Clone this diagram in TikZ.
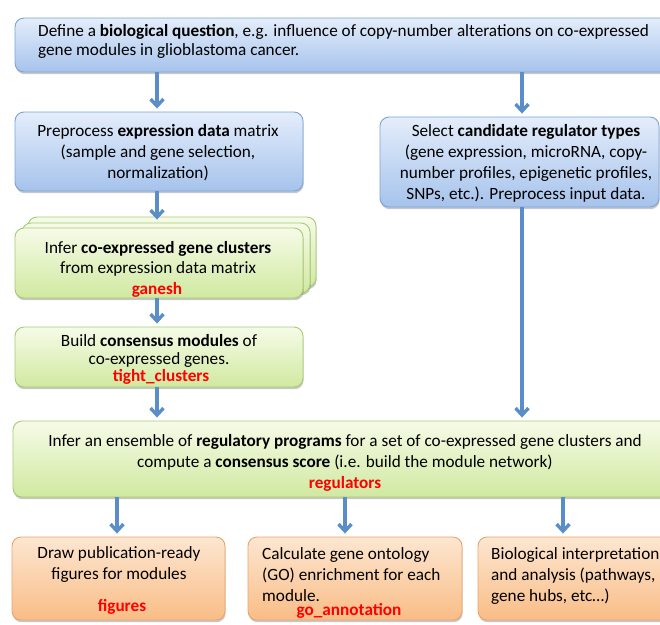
\documentclass[tikz,border=0pt]{standalone}
\usepackage{fontspec}
\setmainfont{Carlito}
\usetikzlibrary{arrows.meta,shadows}
\definecolor{bdraw}{RGB}{125,163,214}
\definecolor{btop}{RGB}{228,237,251}
\definecolor{bbot}{RGB}{166,195,236}
\definecolor{gdraw}{RGB}{166,204,112}
\definecolor{gtop}{RGB}{246,251,232}
\definecolor{gbot}{RGB}{208,233,160}
\definecolor{odraw}{RGB}{238,164,104}
\definecolor{otop}{RGB}{253,230,209}
\definecolor{obot}{RGB}{249,189,134}
\definecolor{acol}{RGB}{91,142,200}
\definecolor{tred}{RGB}{255,0,0}
\begin{document}
\begin{tikzpicture}[x=1pt,y=-1pt,
  box/.style={draw, line width=0.9pt, rounded corners=9pt, inner sep=0pt,
    drop shadow={shadow xshift=0.6pt, shadow yshift=-2.2pt, opacity=0.22, fill=black}},
  bluebox/.style={box, draw=bdraw, top color=btop, bottom color=bbot},
  greenbox/.style={box, draw=gdraw, top color=gtop, bottom color=gbot},
  orangebox/.style={box, draw=odraw, top color=otop, bottom color=obot},
  txt/.style={inner sep=0pt, align=center, text=black, font=\fontsize{17.2}{21}\selectfont},
  redtxt/.style={inner sep=0pt, text=tred, font=\fontsize{17.2}{18}\selectfont\bfseries},
  arr/.style={draw=acol, line width=3.4pt, shorten >=3pt,
    -{Straight Barb[length=7pt, width=13pt, line width=3.4pt]}}]
\useasboundingbox (0,0) rectangle (660,624);
\clip (0,0) rectangle (660,624);

% boxes
\node[bluebox, minimum width=665pt, minimum height=54pt] (q) at (347.5,45) {};
\node[bluebox, minimum width=288pt, minimum height=79pt] (pp) at (159,151.5) {};
\node[bluebox, minimum width=279pt, minimum height=90pt] (sel) at (519.5,162) {};
\node[greenbox, minimum width=288pt, minimum height=70pt] (inf3) at (172,252) {};
\node[greenbox, minimum width=288pt, minimum height=70pt] (inf2) at (166,258) {};
\node[greenbox, minimum width=288pt, minimum height=70pt] (inf) at (159,263) {};
\node[greenbox, minimum width=288pt, minimum height=60pt] (bld) at (159,357) {};
\node[greenbox, minimum width=664pt, minimum height=76pt] (big) at (345,459) {};
\node[orangebox, minimum width=213pt, minimum height=83pt] (b1) at (118.5,578.5) {};
\node[orangebox, minimum width=214pt, minimum height=83pt] (b2) at (355,578.5) {};
\node[orangebox, minimum width=214pt, minimum height=83pt] (b3) at (585,578.5) {};

% texts
\node[txt, align=left, anchor=west, font=\fontsize{17.2}{19}\selectfont] (qt) at (38,41)
  {Define a \textbf{biological question}, e.g. influence of copy-number alterations on co-expressed\\gene modules in glioblastoma cancer.};
\node[txt] (ppt) at (158,153)
  {Preprocess \textbf{expression data} matrix\\(sample and gene selection,\\normalization)};
\node[txt] (selt) at (526,163.5)
  {Select \textbf{candidate regulator types}\\(gene expression, microRNA, copy-\\number profiles, epigenetic profiles,\\SNPs, etc.). Preprocess input data.};
\node[txt, font=\fontsize{17.2}{20}\selectfont] (inft) at (158,258.5)
  {Infer \textbf{co-expressed gene clusters}\\from expression data matrix};
\node[redtxt] (ganesh) at (157,289.5) {ganesh};
\node[txt, font=\fontsize{17.2}{18}\selectfont] (bldt) at (159,350.5)
  {Build \textbf{consensus modules} of\\co-expressed genes.};
\node[redtxt] (tight) at (161,376.5) {tight\_clusters};
\node[txt] (bigt) at (345,452)
  {Infer an ensemble of \textbf{regulatory programs} for a set of co-expressed gene clusters and\\compute a \textbf{consensus score} (i.e. build the module network)};
\node[redtxt] (reg) at (345,484) {regulators};
\node[txt] (b1t) at (119,564)
  {Draw publication-ready\\figures for modules};
\node[redtxt] (fig) at (122,607) {figures};
\node[txt, align=left, anchor=west] (b2t) at (262,574.5)
  {Calculate gene ontology\\(GO) enrichment for each\\module.};
\node[redtxt] (go) at (349,611) {go\_annotation};
\node[txt, align=left, anchor=west] (b3t) at (491,575.5)
  {Biological interpretation\\and analysis (pathways,\\gene hubs, etc\ldots)};

% arrows
\draw[arr] ([xshift=-2pt]pp.north |- q.south) -- ([xshift=-2pt]pp.north);
\draw[arr] ([xshift=2.5pt]sel.north |- q.south) -- ([xshift=2.5pt]sel.north);
\draw[arr] ([xshift=-2pt]pp.south) -- ([xshift=-2pt]pp.south |- inf2.north);
\draw[arr] ([xshift=-2pt]inf.south) -- ([xshift=-2pt]bld.north);
\draw[arr] ([xshift=-2pt]bld.south) -- ([xshift=-2pt]bld.south |- big.north);
\draw[arr] ([xshift=2.5pt]sel.south) -- ([xshift=2.5pt]sel.south |- big.north);
\draw[arr] ([xshift=-1.5pt]b1.north |- big.south) -- ([xshift=-1.5pt]b1.north);
\draw[arr] (big.south) -- (big.south |- b2.north);
\draw[arr] ([xshift=-22pt]b3.north |- big.south) -- ([xshift=-22pt]b3.north);
\end{tikzpicture}
\end{document}
